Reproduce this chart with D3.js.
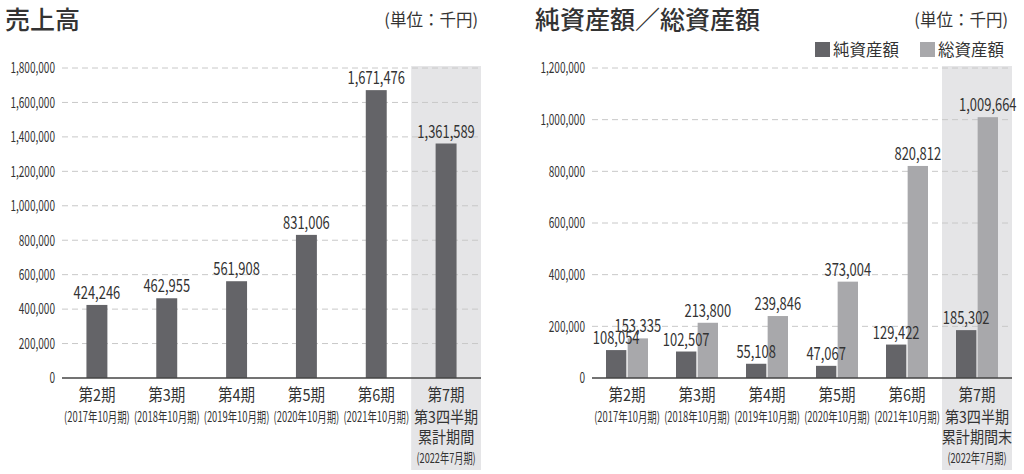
<!DOCTYPE html>
<html><head><meta charset="utf-8">
<script src="https://cdn.jsdelivr.net/npm/d3@7"></script>
<style>
body{margin:0;background:#fff;}
svg{display:block;}
.jp{font-family:"Noto Sans CJK JP","Noto Sans",sans-serif;}
.num{font-family:"Noto Sans CJK JP","Noto Sans",sans-serif;}
</style></head><body>
<svg id="c" width="1024" height="474"></svg>
<script>
const categories = ["第2期","第3期","第4期","第5期","第6期","第7期"];
const subLabels = ["(2017年10月期)","(2018年10月期)","(2019年10月期)","(2020年10月期)","(2021年10月期)"];
const lastLabelsLeft = ["第3四半期","累計期間","(2022年7月期)"];
const lastLabelsRight = ["第3四半期","累計期間末","(2022年7月期)"];
const sales = [424246,462955,561908,831006,1671476,1361589];
const netAssets = [108054,102507,55108,47067,129422,185302];
const totalAssets = [153335,213800,239846,373004,820812,1009664];
const leftTicks = [0,200000,400000,600000,800000,1000000,1200000,1400000,1600000,1800000];
const rightTicks = [0,200000,400000,600000,800000,1000000,1200000];
const seriesNames = ["純資産額","総資産額"];

const DARK="#646468", LIGHT="#a8a8ab", SHADE="#e5e5e7", TXT="#333333", GRID="#c8c8c8";
const svg = d3.select("#c");
const fmt = d3.format(",");

function cond(sel, sx){
  sel.each(function(){
    const t = d3.select(this);
    const x = +t.attr("x") || 0;
    t.attr("x", x/sx).attr("transform", `scale(${sx},1)`);
  });
  return sel;
}

function panel(opts){
  const g = svg.append("g");
  const x = d3.scaleBand().domain(categories).range([opts.x0,opts.x1]).paddingInner(opts.pad).paddingOuter(opts.pad/2);
  const y = d3.scaleLinear().domain([0,opts.max]).range([378,68]);
  const step = x.step();
  const last = categories[categories.length-1];
  g.append("rect").attr("x",x(last)+x.bandwidth()/2-step/2).attr("width",step)
    .attr("y",66).attr("height",470-66).attr("fill",SHADE);
  g.selectAll(".grid").data(opts.ticks.filter(t=>t>0)).join("line")
    .attr("x1",opts.x0).attr("x2",opts.x1).attr("y1",d=>y(d)).attr("y2",d=>y(d))
    .attr("stroke",GRID).attr("stroke-width",1).attr("stroke-dasharray","6,4");
  const ax = g.append("g").attr("transform",`translate(${opts.x0},0)`)
    .call(d3.axisLeft(y).tickValues(opts.ticks).tickFormat(fmt).tickSize(0).tickPadding(7));
  ax.select(".domain").remove();
  ax.selectAll("text").attr("class","num").attr("font-size",15).attr("fill",TXT).attr("font-family",null);
  cond(ax.selectAll("text"),0.67);
  return {g,x,y};
}

function catLabels(g,x,lastLabels){
  categories.forEach((c,i)=>{
    const cx = x(c)+x.bandwidth()/2;
    cond(g.append("text").attr("class","jp").attr("x",cx).attr("y",401).attr("text-anchor","middle").attr("font-size",16.5).attr("fill",TXT).text(c),0.88);
    if(i<subLabels.length){
      cond(g.append("text").attr("class","num").attr("x",cx).attr("y",422).attr("text-anchor","middle").attr("font-size",14).attr("fill",TXT).text(subLabels[i]),0.67);
    } else {
      cond(g.append("text").attr("class","jp").attr("x",cx).attr("y",423).attr("text-anchor","middle").attr("font-size",16).attr("fill",TXT).text(lastLabels[0]),0.88);
      cond(g.append("text").attr("class","jp").attr("x",cx).attr("y",443).attr("text-anchor","middle").attr("font-size",16).attr("fill",TXT).text(lastLabels[1]),0.88);
      cond(g.append("text").attr("class","num").attr("x",cx).attr("y",463).attr("text-anchor","middle").attr("font-size",13.5).attr("fill",TXT).text(lastLabels[2]),0.68);
    }
  });
}

// Left panel
{
  const {g,x,y} = panel({x0:62,x1:481,max:1800000,ticks:leftTicks,pad:0.7});
  g.selectAll(".bar").data(sales).join("rect")
    .attr("x",(d,i)=>x(categories[i])).attr("width",x.bandwidth())
    .attr("y",d=>y(d)).attr("height",d=>y(0)-y(d)).attr("fill",DARK);
  cond(g.selectAll(".val").data(sales).join("text").attr("class","num")
    .attr("x",(d,i)=>x(categories[i])+x.bandwidth()/2).attr("y",d=>y(d)-6)
    .attr("text-anchor","middle").attr("font-size",17.5).attr("fill",TXT).text(fmt),0.74);
  g.append("line").attr("x1",62).attr("x2",481).attr("y1",y(0)).attr("y2",y(0)).attr("stroke","#444").attr("stroke-width",1.5);
  catLabels(g,x,lastLabelsLeft);
  svg.append("text").attr("class","jp").attr("x",5).attr("y",29).attr("font-size",25).attr("font-weight",500).attr("fill",TXT).text("売上高");
  svg.append("text").attr("class","jp").attr("x",478).attr("y",26).attr("text-anchor","end").attr("font-size",16.5).attr("fill",TXT).text("(単位：千円)");
}

// Right panel
{
  const {g,x,y} = panel({x0:592,x1:1012,max:1200000,ticks:rightTicks,pad:0.4});
  const x1 = d3.scaleBand().domain([0,1]).range([0,x.bandwidth()]).paddingInner(0.06);
  const series = [netAssets,totalAssets];
  const cols = [DARK,LIGHT];
  series.forEach((s,si)=>{
    g.selectAll(".bar"+si).data(s).join("rect")
      .attr("x",(d,i)=>x(categories[i])+x1(si)).attr("width",x1.bandwidth())
      .attr("y",d=>y(d)).attr("height",d=>y(0)-y(d)).attr("fill",cols[si]);
  });
  series.forEach((s,si)=>{
    cond(g.selectAll(".val"+si).data(s).join("text").attr("class","num")
      .attr("x",(d,i)=>x(categories[i])+x1(si)+x1.bandwidth()/2).attr("y",d=>y(d)-6)
      .attr("text-anchor","middle").attr("font-size",17.5).attr("fill",TXT).text(fmt),0.74);
  });
  g.append("line").attr("x1",592).attr("x2",1012).attr("y1",y(0)).attr("y2",y(0)).attr("stroke","#444").attr("stroke-width",1.5);
  catLabels(g,x,lastLabelsRight);
  svg.append("text").attr("class","jp").attr("x",535).attr("y",29).attr("font-size",25).attr("font-weight",500).attr("fill",TXT).text("純資産額／総資産額");
  svg.append("text").attr("class","jp").attr("x",1008).attr("y",26).attr("text-anchor","end").attr("font-size",16.5).attr("fill",TXT).text("(単位：千円)");
  const leg = svg.append("g");
  const lx = [815,920];
  seriesNames.forEach((n,i)=>{
    leg.append("rect").attr("x",lx[i]).attr("y",42).attr("width",15).attr("height",15).attr("fill",cols[i]);
    leg.append("text").attr("class","jp").attr("x",lx[i]+18).attr("y",56).attr("font-size",16.5).attr("fill",TXT).text(n);
  });
}
</script></body></html>
